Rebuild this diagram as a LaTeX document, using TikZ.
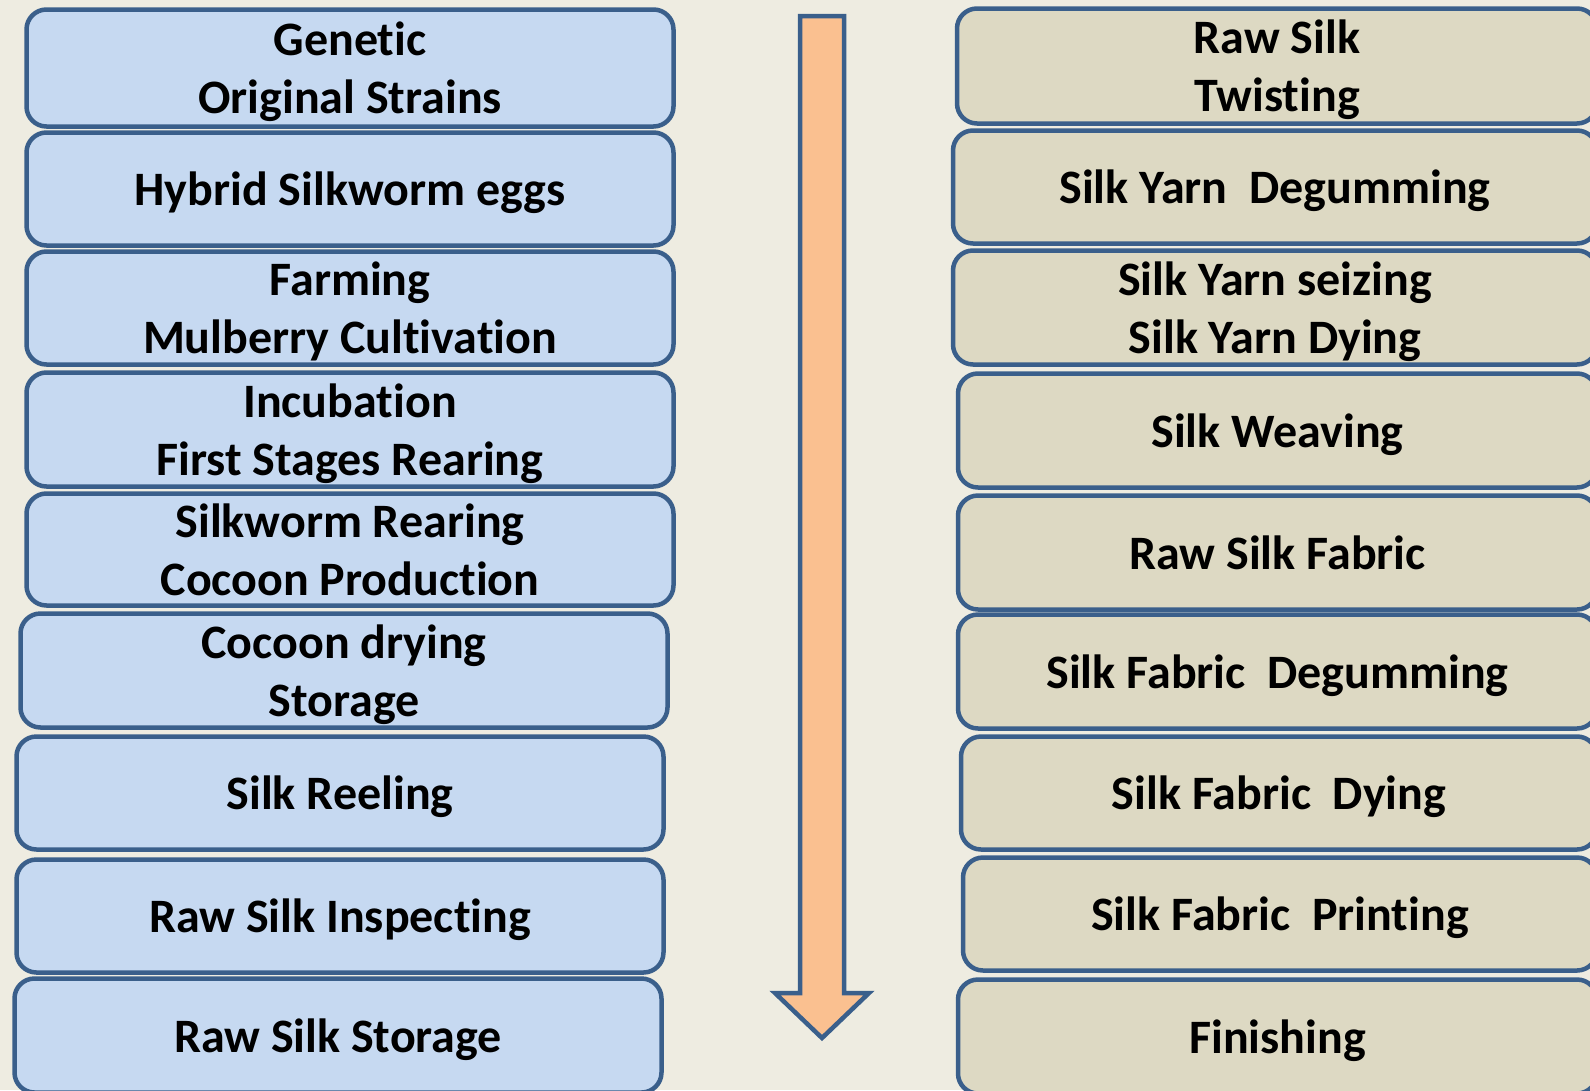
\documentclass[tikz,border=0pt]{standalone}
\usepackage{xcolor}
\usepackage{fontspec}
\setmainfont[Ligatures=NoCommon]{Carlito}
\usepackage{tikz}
\usetikzlibrary{positioning}
\definecolor{silkpaper}{HTML}{EEECE1}
\definecolor{silkblue}{HTML}{C6D9F1}
\definecolor{silkstone}{HTML}{DDD9C3}
\definecolor{silkedge}{HTML}{3A5F8B}
\definecolor{silkpeach}{HTML}{FAC090}
\tikzset{
  silkbox/.style={draw=silkedge, line width=4.5pt, rounded corners=20pt, inner sep=0pt, outer sep=0pt,
    align=center, text depth=0pt, font=\bfseries\fontsize{48}{58}\selectfont},
  farmbox/.style={silkbox, fill=silkblue, minimum width=647pt},
  millbox/.style={silkbox, fill=silkstone},
}

\begin{document}
\begin{tikzpicture}[x=1pt, y=-1pt]
\useasboundingbox (0,0) rectangle (1590,1090);
\fill[silkpaper] (0,0) rectangle (1590,1090);
\clip (0,0) rectangle (1590,1090);
% left column: from strains to raw silk
\node[farmbox, minimum height=117pt] (genetic) at (350,68) {Genetic\\Original Strains};
\node[farmbox, minimum height=113pt] (hybrid) at (350,189) {Hybrid Silkworm eggs};
\node[farmbox, minimum height=113pt] (farming) at (350,308) {Farming\\Mulberry Cultivation};
\node[farmbox, minimum height=114pt] (incubation) at (350,429.5) {Incubation\\First Stages Rearing};
\node[farmbox, minimum height=112pt] (rearing) at (350,549.5) {Silkworm Rearing\\Cocoon Production};
\node[farmbox, minimum height=114pt] (drying) at (344,670.5) {Cocoon drying\\Storage};
\node[farmbox, minimum height=113pt] (reeling) at (340,793) {Silk Reeling};
\node[farmbox, minimum height=113pt] (inspecting) at (340,916) {Raw Silk Inspecting};
\node[farmbox, minimum height=114pt] (rawstore) at (338,1035.5) {Raw Silk Storage};
% right column: from yarn to fabric
\node[millbox, minimum width=640pt, minimum height=115pt] (twisting) at (1277,66) {Raw Silk\\Twisting};
\node[millbox, minimum width=644pt, minimum height=113pt] (yarndegum) at (1275,187) {Silk Yarn\ \ Degumming};
\node[millbox, minimum width=644pt, minimum height=114pt] (yarndye) at (1275,307.5) {Silk Yarn seizing\\Silk Yarn Dying};
\node[millbox, minimum width=639pt, minimum height=114pt] (weaving) at (1277.5,430.5) {Silk Weaving};
\node[millbox, minimum width=639pt, minimum height=114pt] (rawfabric) at (1277.5,552.5) {Raw Silk Fabric};
\node[millbox, minimum width=639pt, minimum height=114pt] (fabricdegum) at (1277.5,671.5) {Silk Fabric\ \ Degumming};
\node[millbox, minimum width=636pt, minimum height=113pt] (fabricdye) at (1279,793) {Silk Fabric\ \ Dying};
\node[millbox, minimum width=634pt, minimum height=113pt] (printing) at (1280,914) {Silk Fabric\ \ Printing};
\node[millbox, minimum width=639pt, minimum height=114pt] (finishing) at (1277.5,1036.5) {Finishing};
% block arrow
\draw[silkedge, fill=silkpeach, line width=4.5pt, line join=miter]
  (800,16) -- (844,16) -- (844,993) -- (869,993) -- (822,1038) -- (775,993) -- (800,993) -- cycle;
\end{tikzpicture}
\end{document}
